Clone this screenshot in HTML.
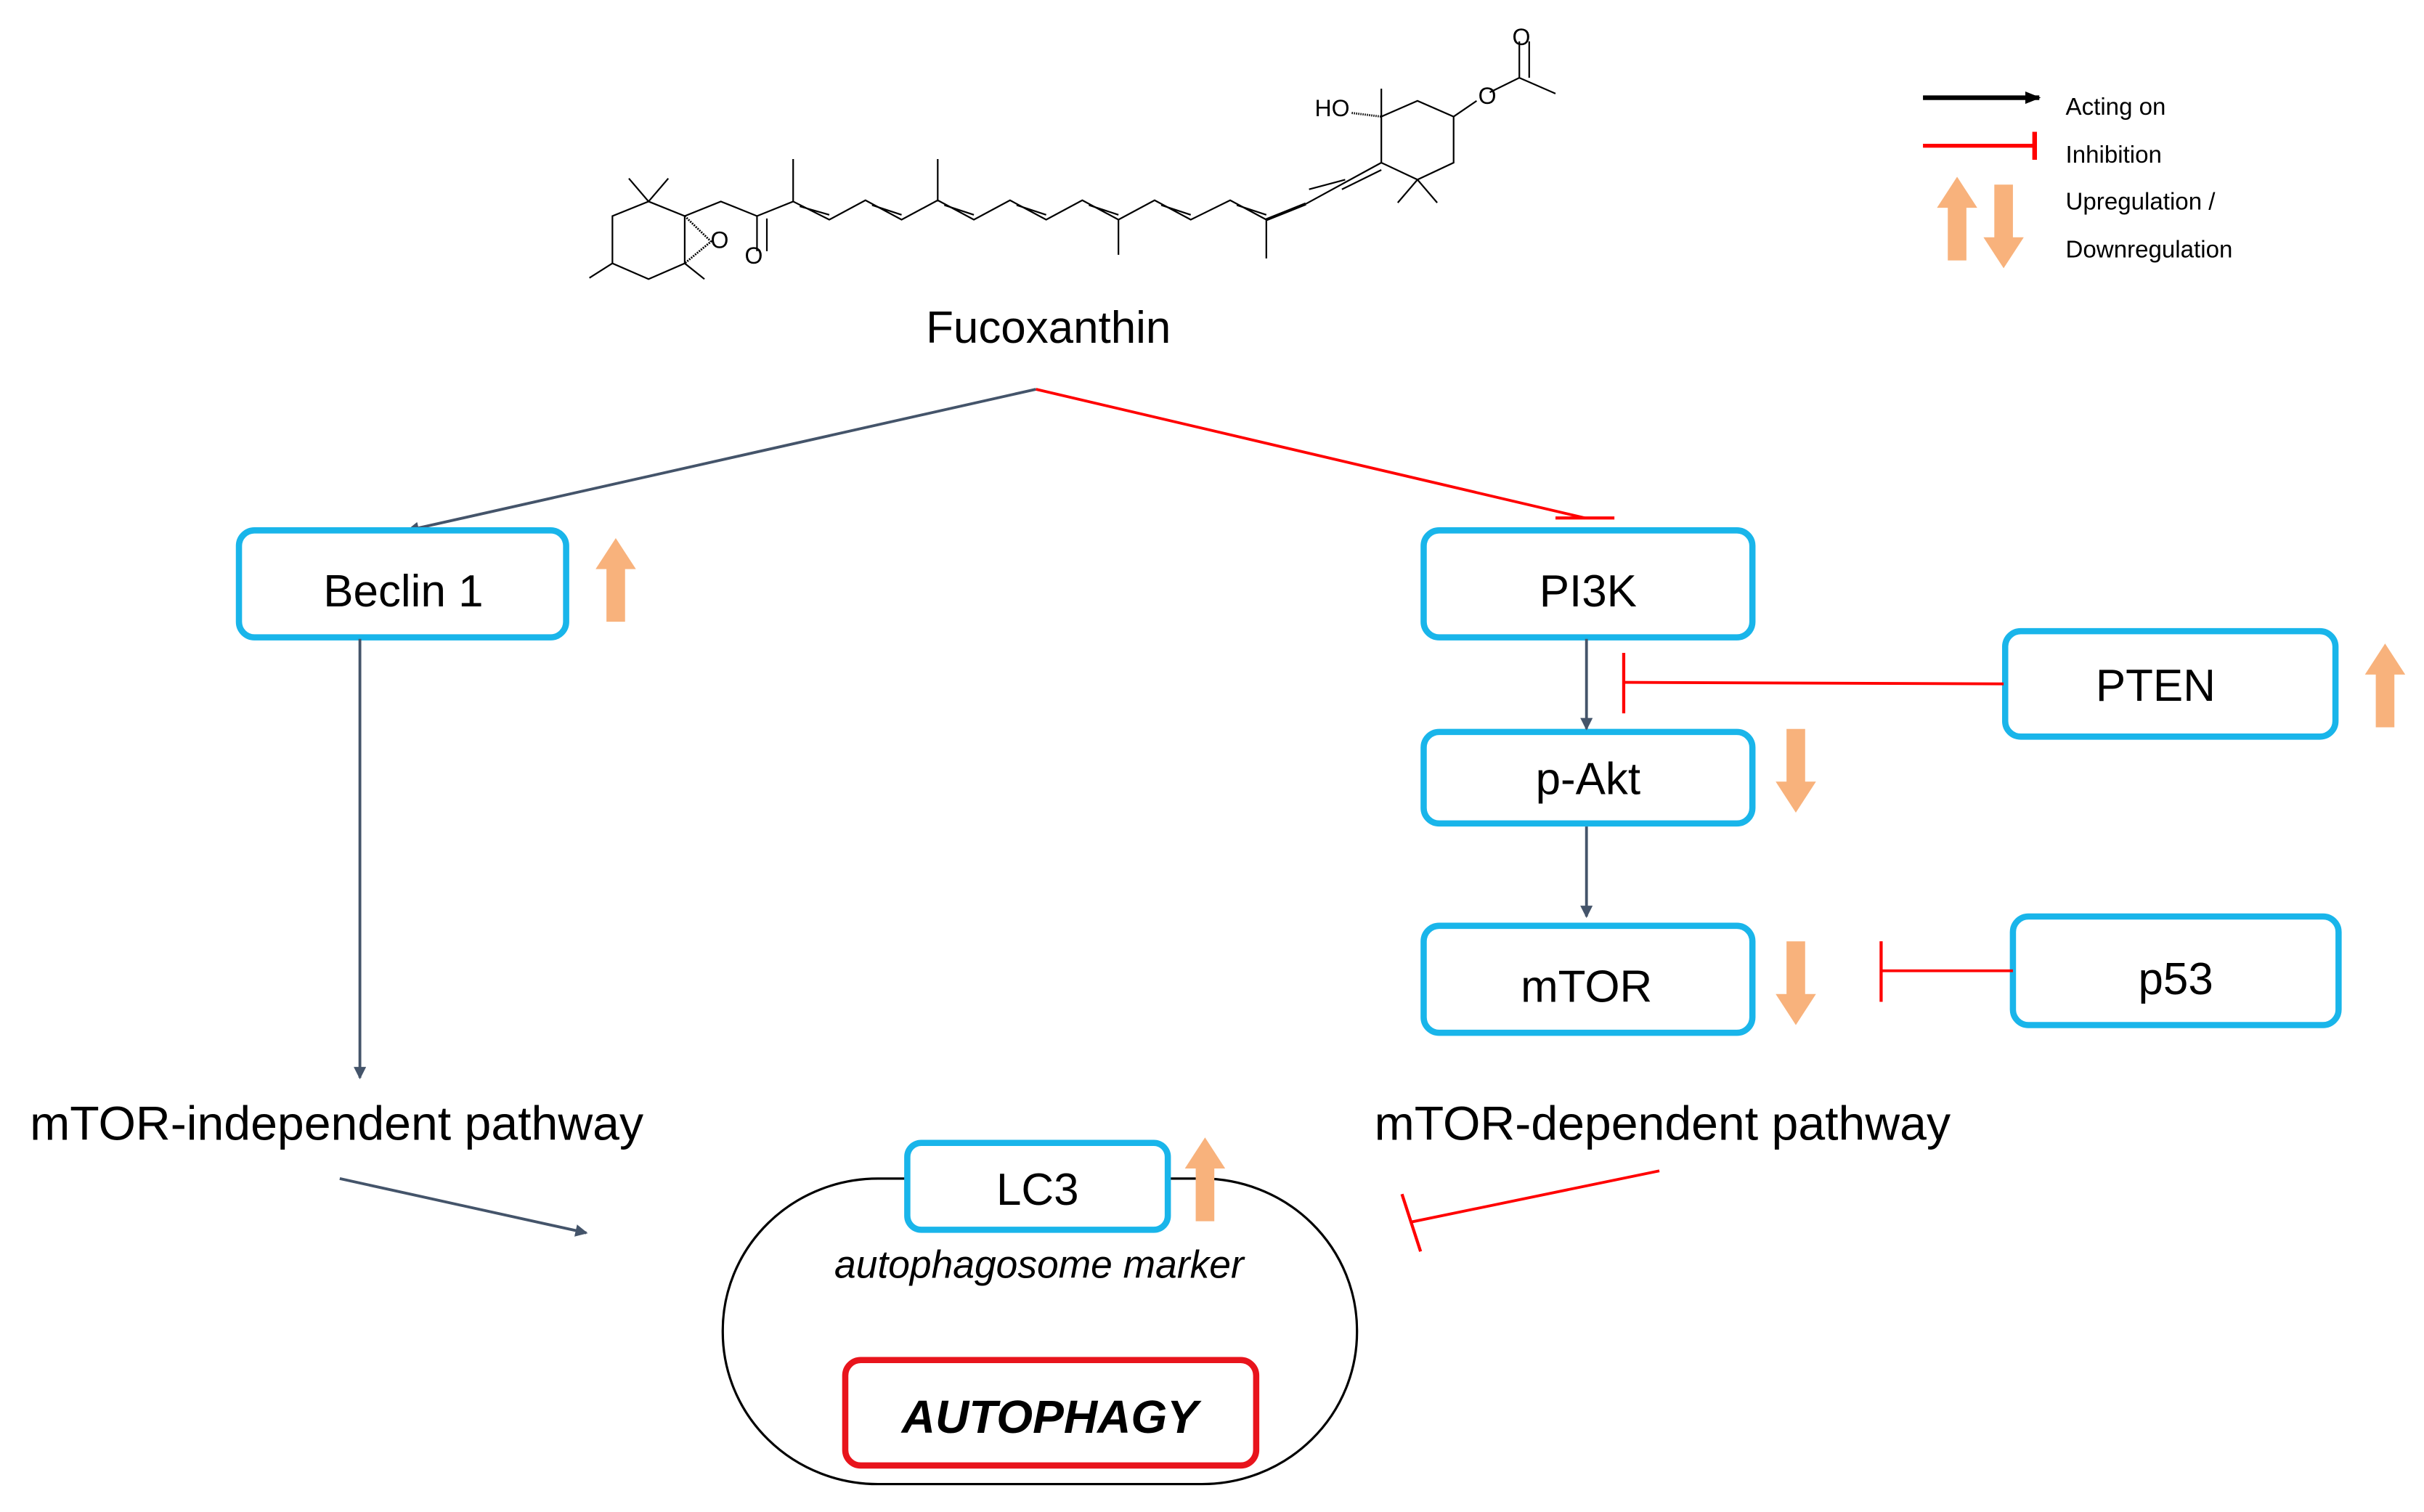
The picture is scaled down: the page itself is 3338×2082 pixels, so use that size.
<!DOCTYPE html>
<html><head><meta charset="utf-8"><style>html,body{margin:0;padding:0;background:#fff}svg{display:block}text{font-family:"Liberation Sans","DejaVu Sans",sans-serif}</style></head>
<body>
<svg width="3338" height="2082" viewBox="0 0 1563 975" xmlns="http://www.w3.org/2000/svg">
<defs>
<marker id="ag" markerWidth="8" markerHeight="8" refX="7" refY="4" orient="auto" markerUnits="userSpaceOnUse"><path d="M0,0 L8,4 L0,8 z" fill="#44546a"/></marker>
<marker id="ak" markerWidth="10" markerHeight="8" refX="9" refY="4" orient="auto" markerUnits="userSpaceOnUse"><path d="M0,0 L10,4 L0,8 z" fill="#000"/></marker>
<symbol id="up" viewBox="0 0 26 54"><path d="M13,0 L26,20 L19,20 L19,54 L7,54 L7,20 L0,20 z" fill="#f8b27c"/></symbol>
<symbol id="dn" viewBox="0 0 26 54"><path d="M13,54 L26,34 L19,34 L19,0 L7,0 L7,34 L0,34 z" fill="#f8b27c"/></symbol>
</defs>
<rect width="1563" height="975" fill="#fff"/>
<g transform="translate(367.3,9.5) scale(0.4238,0.1564)" stroke="#000" stroke-width="2.2" fill="none">
<path vector-effect="non-scaling-stroke" d="M120,770 L175,830 L175,1025 L120,1090 L65,1025 L65,830 Z"/>
<path vector-effect="non-scaling-stroke" d="M120,770 L90,675 M120,770 L150,675 M175,1025 L205,1090 M65,1025 L30,1085"/>
<path vector-effect="non-scaling-stroke" d="M175,830 L215,935 L175,1025" stroke-dasharray="2,1.5" stroke-width="2.8"/>
<path vector-effect="non-scaling-stroke" d="M175,830 L230,770 L285,830 L340,770 L395,845 L450,765 L505,845 L560,765 L615,845 L670,765 L725,845 L780,765 L835,845 L890,765 L945,845 L1005,765 L1060,845"/>
<path vector-effect="non-scaling-stroke" d="M285,830 L285,975 M300,840 L300,975 M340,770 L340,595 M560,770 L560,595 M835,845 L835,990 M1060,845 L1060,1005"/>
<path vector-effect="non-scaling-stroke" d="M350,790 L395,825 M460,785 L505,825 M570,785 L615,825 M680,785 L725,825 M790,785 L835,825 M900,785 L945,825 M1015,785 L1060,825"/>
<path vector-effect="non-scaling-stroke" d="M1060,845 L1120,780" stroke-width="4"/>
<path vector-effect="non-scaling-stroke" d="M1120,780 L1235,610 M1125,720 L1180,680 M1175,720 L1235,640"/>
<path vector-effect="non-scaling-stroke" d="M1235,610 L1235,420 L1290,355 L1345,420 L1345,610 L1290,680 Z"/>
<path vector-effect="non-scaling-stroke" d="M1235,420 L1235,305 M1290,680 L1260,775 M1290,680 L1320,775 M1345,420 L1380,355 M1400,320 L1445,260 L1445,110 M1460,260 L1460,110 M1445,260 L1500,325"/>
<path vector-effect="non-scaling-stroke" d="M1190,405 L1235,420" stroke-dasharray="1.5,1.5" stroke-width="3"/>
</g>
<g fill="#000">
<text x="486" y="170" text-anchor="middle" font-size="15">O</text>
<text x="464" y="160" text-anchor="middle" font-size="15">O</text>
<text x="859" y="75" text-anchor="middle" font-size="15">HO</text>
<text x="959" y="67" text-anchor="middle" font-size="15">O</text>
<text x="981" y="29" text-anchor="middle" font-size="15">O</text>
</g>
<text x="676" y="221" text-anchor="middle" font-size="29">Fucoxanthin</text>
<line x1="1240" y1="63" x2="1315" y2="63" stroke="#000" stroke-width="3" marker-end="url(#ak)"/>
<line x1="1240" y1="94" x2="1312" y2="94" stroke="#f00" stroke-width="2.5"/>
<line x1="1312" y1="85" x2="1312" y2="103" stroke="#f00" stroke-width="3"/>
<g font-size="15.5"><text x="1332" y="74">Acting on</text><text x="1332" y="105">Inhibition</text><text x="1332" y="135">Upregulation /</text><text x="1332" y="166">Downregulation</text></g>
<use href="#up" x="1249" y="114" width="26" height="54"/>
<use href="#dn" x="1279" y="119" width="26" height="54"/>
<line x1="668" y1="251" x2="263" y2="342" stroke="#44546a" stroke-width="1.8" marker-end="url(#ag)"/>
<line x1="668" y1="251" x2="1022" y2="334" stroke="#f00" stroke-width="1.8"/>
<line x1="1003" y1="334" x2="1041" y2="334" stroke="#f00" stroke-width="2"/>
<g fill="#fff" stroke="#19b5ea" stroke-width="4">
<rect x="154" y="342" width="211" height="69" rx="10"/>
<rect x="918" y="342" width="212" height="69" rx="10"/>
<rect x="1293" y="407" width="213" height="68" rx="10"/>
<rect x="918" y="472" width="212" height="59" rx="10"/>
<rect x="918" y="597" width="212" height="69" rx="10"/>
<rect x="1298" y="591" width="210" height="70" rx="10"/>
</g>
<g font-size="29" text-anchor="middle">
<text x="260" y="391">Beclin 1</text>
<text x="1024" y="391">PI3K</text>
<text x="1390" y="452">PTEN</text>
<text x="1024" y="512">p-Akt</text>
<text x="1023" y="646">mTOR</text>
<text x="1403" y="641">p53</text>
</g>
<use href="#up" x="384" y="347" width="26" height="54"/>
<use href="#up" x="1525" y="415" width="26" height="54"/>
<use href="#dn" x="1145" y="470" width="26" height="54"/>
<use href="#dn" x="1145" y="607" width="26" height="54"/>
<line x1="232" y1="412" x2="232" y2="695" stroke="#44546a" stroke-width="1.8" marker-end="url(#ag)"/>
<line x1="1023" y1="412" x2="1023" y2="470" stroke="#44546a" stroke-width="1.8" marker-end="url(#ag)"/>
<line x1="1023" y1="533" x2="1023" y2="591" stroke="#44546a" stroke-width="1.8" marker-end="url(#ag)"/>
<line x1="1292" y1="441" x2="1047" y2="440" stroke="#f00" stroke-width="1.8"/>
<line x1="1047" y1="421" x2="1047" y2="460" stroke="#f00" stroke-width="2"/>
<line x1="1298" y1="626" x2="1213" y2="626" stroke="#f00" stroke-width="1.8"/>
<line x1="1213" y1="607" x2="1213" y2="646" stroke="#f00" stroke-width="2"/>
<text x="217" y="735" font-size="31" text-anchor="middle">mTOR-independent pathway</text>
<text x="1072" y="735" font-size="31" text-anchor="middle">mTOR-dependent pathway</text>
<line x1="219" y1="760" x2="378" y2="795" stroke="#44546a" stroke-width="1.8" marker-end="url(#ag)"/>
<line x1="1070" y1="755" x2="910" y2="788" stroke="#f00" stroke-width="1.8"/>
<line x1="904" y1="770" x2="916" y2="807" stroke="#f00" stroke-width="2"/>
<rect x="466" y="760" width="409" height="197" rx="100" ry="98" fill="none" stroke="#000" stroke-width="1.5"/>
<rect x="585" y="737" width="168" height="56" rx="9" fill="#fff" stroke="#19b5ea" stroke-width="4"/>
<text x="669" y="777" font-size="29" text-anchor="middle">LC3</text>
<use href="#up" x="764" y="733" width="26" height="55"/>
<text x="670" y="824" font-size="25" font-style="italic" text-anchor="middle">autophagosome marker</text>
<rect x="545" y="877" width="265" height="68" rx="10" fill="#fff" stroke="#e8141c" stroke-width="4"/>
<text x="677" y="924" font-size="30" font-style="italic" font-weight="bold" text-anchor="middle">AUTOPHAGY</text>
</svg>
</body></html>
